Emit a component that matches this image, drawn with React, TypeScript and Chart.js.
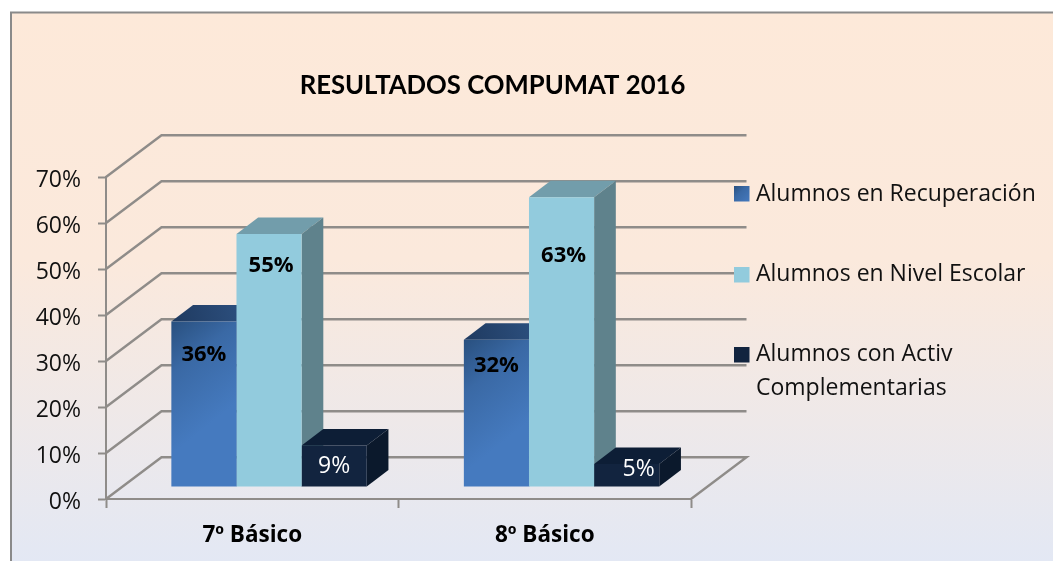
import React, { useEffect, useRef } from "react";
import { Chart, registerables } from "chart.js";

Chart.register(...registerables);

const categories = ["7º Básico", "8º Básico"];
const seriesNames = ["Alumnos en Recuperación", "Alumnos en Nivel Escolar", "Alumnos con Activ Complementarias"];
const recuperacion = [36, 32];
const nivelEscolar = [55, 63];
const complementarias = [9, 5];
const chartTitle = "RESULTADOS COMPUMAT 2016";

const SANS = '"Open Sans", sans-serif';
const TITLE_FONT = 'Lato, "Open Sans", sans-serif';
const GRID = "#8f8c89";
const WALL = { dx: 55.5, dy: -41.7 };
const DEPTH = { dx: 21.7, dy: -16.5 };
const PLANE = { dx: 16.8, dy: -12 };

const faces = [
  { top: ["#1f3a60", "#2f5485"], side: "#2f5485", text: "#000", bold: true },
  { front: "#92cbdd", top: "#729dab", side: "#5f828c", text: "#000", bold: true },
  { front: "#12243f", top: "#0d1e36", side: "#0b192c", text: "#fff", bold: false },
];
// label nudges relative to the centre of the top edge of each bar's front face [series][category]
const labelNudge = [
  [[0, 32], [0, 25]],
  [[2, 31], [2, 58]],
  [[0, 20], [12, 4]],
];

function blueGradient(c: any, x0: number, y0: number, x1: number, y1: number) {
  const g = c.createLinearGradient(x0, y0, x1, y1);
  g.addColorStop(0, "#29507f");
  g.addColorStop(0.4, "#3a69a5");
  g.addColorStop(1, "#457abf");
  return g;
}

function wrap(ctx: any, text: string, maxW: number) {
  const lines: string[] = [];
  let cur = "";
  for (const w of text.split(" ")) {
    const t = cur ? cur + " " + w : w;
    if (ctx.measureText(t).width > maxW && cur) {
      lines.push(cur);
      cur = w;
    } else cur = t;
  }
  lines.push(cur);
  return lines;
}

const scene = {
  id: "scene3d",
  beforeDraw(chart: any) {
    const { ctx, width, height } = chart;
    ctx.save();
    ctx.fillStyle = "#fff";
    ctx.fillRect(0, 0, width, height);
    const g = ctx.createLinearGradient(0, 12, 0, height);
    g.addColorStop(0, "#fde9d9");
    g.addColorStop(0.45, "#fbe9dc");
    g.addColorStop(1, "#e3e8f4");
    ctx.fillStyle = g;
    ctx.fillRect(11, 12, width - 11, height - 12);
    ctx.strokeStyle = "#8a8a8a";
    ctx.lineWidth = 2;
    ctx.beginPath();
    ctx.moveTo(11, height);
    ctx.lineTo(11, 12.5);
    ctx.lineTo(width, 12.5);
    ctx.stroke();
    ctx.restore();
  },
  beforeDatasetsDraw(chart: any) {
    const { ctx, scales, chartArea } = chart;
    const y = scales.y;
    ctx.save();
    // walls and floor
    ctx.strokeStyle = GRID;
    ctx.lineWidth = 2.4;
    for (const t of y.ticks) {
      const py = y.getPixelForValue(t.value);
      ctx.beginPath();
      ctx.moveTo(chartArea.left, py);
      ctx.lineTo(chartArea.left + WALL.dx, py + WALL.dy);
      ctx.lineTo(chartArea.right + WALL.dx, py + WALL.dy);
      if (t.value === 0) ctx.lineTo(chartArea.right, py);
      ctx.stroke();
    }
    // top and side faces of the bars
    chart.data.labels.forEach((_: any, i: number) => {
      chart.data.datasets.forEach((_d: any, d: number) => {
        const el = chart.getDatasetMeta(d).data[i];
        const l = el.x - el.width / 2 + PLANE.dx;
        const r = el.x + el.width / 2 + PLANE.dx;
        const t = el.y + PLANE.dy;
        const b = el.base + PLANE.dy;
        const f: any = faces[d];
        let top: any = f.top;
        if (Array.isArray(top)) {
          const g = ctx.createLinearGradient(l, t, r + DEPTH.dx, t + DEPTH.dy);
          g.addColorStop(0, top[0]);
          g.addColorStop(1, top[1]);
          top = g;
        }
        ctx.fillStyle = top;
        ctx.beginPath();
        ctx.moveTo(l, t);
        ctx.lineTo(l + DEPTH.dx, t + DEPTH.dy);
        ctx.lineTo(r + DEPTH.dx, t + DEPTH.dy);
        ctx.lineTo(r, t);
        ctx.closePath();
        ctx.fill();
        ctx.fillStyle = f.side;
        ctx.beginPath();
        ctx.moveTo(r, t);
        ctx.lineTo(r + DEPTH.dx, t + DEPTH.dy);
        ctx.lineTo(r + DEPTH.dx, b + DEPTH.dy);
        ctx.lineTo(r, b);
        ctx.closePath();
        ctx.fill();
      });
    });
    ctx.restore();
    // front faces are drawn by Chart.js, on the plane of the bars
    ctx.save();
    ctx.translate(PLANE.dx, PLANE.dy);
  },
  afterDatasetsDraw(chart: any) {
    const { ctx, data, width } = chart;
    ctx.restore();
    ctx.save();
    ctx.textAlign = "center";
    ctx.textBaseline = "middle";
    data.datasets.forEach((ds: any, d: number) => {
      const meta = chart.getDatasetMeta(d);
      ds.data.forEach((v: number, i: number) => {
        const el = meta.data[i];
        const n = labelNudge[d][i];
        ctx.fillStyle = faces[d].text;
        ctx.font = `${faces[d].bold ? "bold 22px" : "23px"} ${SANS}`;
        ctx.fillText(`${v}%`, el.x + PLANE.dx + n[0], el.y + PLANE.dy + n[1] + 1);
      });
    });
    // title
    ctx.fillStyle = "#000";
    ctx.font = `bold 25.7px ${TITLE_FONT}`;
    ctx.fillText(chartTitle, 492.5, 86);
    // legend
    ctx.textAlign = "left";
    ctx.textBaseline = "alphabetic";
    ctx.font = `23px ${SANS}`;
    const rows = [
      { sy: 186, base: 201 },
      { sy: 267, base: 281 },
      { sy: 347, base: 361 },
    ];
    data.datasets.forEach((ds: any, d: number) => {
      const r = rows[d];
      const f: any = faces[d];
      ctx.fillStyle = d === 0 ? blueGradient(ctx, 734, r.sy, 750, r.sy + 16) : f.front;
      ctx.fillRect(734, r.sy, 15.5, 15.5);
      ctx.fillStyle = "#111";
      wrap(ctx, ds.label, width - 756 - 4).forEach((line: string, k: number) => {
        ctx.fillText(line, 756, r.base + k * 33.5);
      });
    });
    ctx.restore();
  },
};

export default function App() {
  const ref = useRef<HTMLCanvasElement>(null);
  useEffect(() => {
    const canvas = ref.current!;
    const chart = new Chart(canvas, {
      type: "bar",
      plugins: [scene],
      data: {
        labels: categories,
        datasets: [recuperacion, nivelEscolar, complementarias].map((values, d) => ({
          label: seriesNames[d],
          data: values,
          categoryPercentage: 0.668,
          barPercentage: 1,
          borderWidth: 0,
          clip: false,
          backgroundColor:
            d === 0
              ? (c: any) => {
                  const ch = c.chart;
                  const { x, y } = ch.scales;
                  if (!x || !y || c.dataIndex === undefined) return "#3e6fae";
                  const w = (x.width / categories.length) * 0.668 / 3;
                  const cx = x.getPixelForValue(c.dataIndex);
                  const l = cx - 1.5 * w;
                  const top = y.getPixelForValue(values[c.dataIndex]);
                  if (![w, l, top].every(Number.isFinite)) return "#3e6fae";
                  return blueGradient(ch.ctx, l, top, l + w, top + 1.25 * w);
                }
              : (faces[d] as any).front,
        })),
      },
      options: {
        animation: false,
        responsive: false,
        layout: { padding: { left: 26, top: 177, right: 362, bottom: 12 } },
        plugins: { legend: { display: false }, tooltip: { enabled: false }, title: { display: false } },
        scales: {
          x: {
            afterFit: (s: any) => { s.height = 50; },
            border: { color: GRID, width: 2 },
            grid: { offset: true, drawOnChartArea: false, drawTicks: true, tickLength: 9, tickWidth: 2, tickColor: GRID },
            ticks: { color: "#000", font: { family: SANS, size: 22.5, weight: "bold" }, padding: 14, maxRotation: 0 },
          },
          y: {
            min: 0,
            max: 70,
            afterFit: (s: any) => { s.width = 80; },
            border: { color: GRID, width: 2 },
            grid: { drawOnChartArea: false, drawTicks: true, tickLength: 8, tickWidth: 2, tickColor: GRID },
            ticks: { stepSize: 10, color: "#111", font: { family: SANS, size: 23 }, padding: 17, labelOffset: 3, callback: (v: any) => `${v}%` },
          },
        },
      },
    } as any);
    return () => chart.destroy();
  }, []);
  return (
    <div style={{ position: "fixed", left: 0, top: 0, width: 1053, height: 561 }}>
      <canvas ref={ref} width={1053} height={561} style={{ display: "block" }} />
    </div>
  );
}
